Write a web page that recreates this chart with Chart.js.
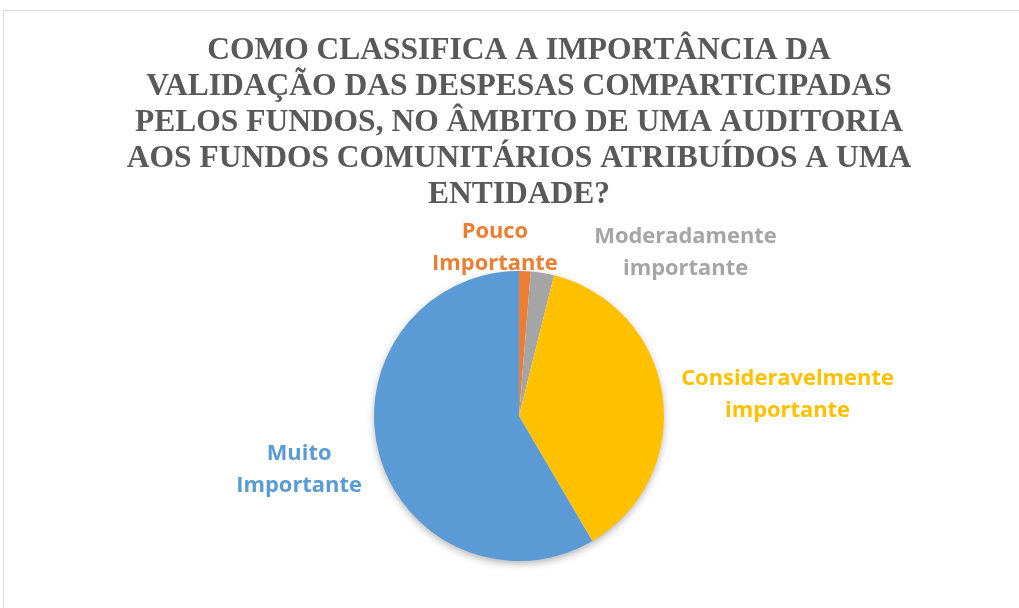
<!DOCTYPE html>
<html>
<head>
<meta charset="utf-8">
<script src="https://cdn.jsdelivr.net/npm/chart.js@4"></script>
<style>
  html, body { margin: 0; padding: 0; background: #fff; overflow: hidden; }
  #wrap { position: relative; width: 1019px; height: 608px; }
</style>
</head>
<body>
<div id="wrap"><canvas id="pieChart" width="1019" height="608"></canvas></div>
<script>
// === dados ===
const categorias = ["Pouco Importante", "Moderadamente importante", "Consideravelmente importante", "Muito Importante"];
const linhasRotulo = [["Pouco", "Importante"], ["Moderadamente", "importante"], ["Consideravelmente", "importante"], ["Muito", "Importante"]];
const respostas = [1, 2, 29, 45];
const titulo = [
    "COMO CLASSIFICA A IMPORTÂNCIA DA",
    "VALIDAÇÃO DAS DESPESAS COMPARTICIPADAS",
    "PELOS FUNDOS, NO ÂMBITO DE UMA AUDITORIA",
    "AOS FUNDOS COMUNITÁRIOS ATRIBUÍDOS A UMA",
    "ENTIDADE?"
];

// paleta Office
const cores = ["#ED7D31", "#A5A5A5", "#FFC000", "#5B9BD5"];

// posição dos rótulos relativa ao ponto médio do arco (estilo)
const posRotulo = [
    { dx: -30, dy: -33 },
    { dx: 143, dy: -30 },
    { dx: 125, dy: -10 },
    { dx: -80, dy: 6 }
];

// moldura cinza do gráfico
const moldura = {
    id: "moldura",
    beforeDraw(chart) {
        const ctx = chart.ctx;
        ctx.save();
        ctx.strokeStyle = "#d9d9d9";
        ctx.lineWidth = 1;
        ctx.strokeRect(3.5, 10.5, 2000, 2000);
        ctx.restore();
    }
};

// sombra por baixo da pizza
const sombra = {
    id: "sombra",
    beforeDatasetsDraw(chart) {
        const arc = chart.getDatasetMeta(0).data[0];
        if (!arc) return;
        const { x, y, outerRadius } = arc.getProps(["x", "y", "outerRadius"], true);
        const ctx = chart.ctx;
        ctx.save();
        ctx.shadowColor = "rgba(0,0,0,0.35)";
        ctx.shadowBlur = 9;
        ctx.shadowOffsetY = 3;
        ctx.fillStyle = "#fff";
        ctx.beginPath();
        ctx.arc(x, y, outerRadius - 1, 0, Math.PI * 2);
        ctx.fill();
        ctx.restore();
    }
};

// rótulos das fatias
const rotulos = {
    id: "rotulos",
    afterDatasetsDraw(chart) {
        const ctx = chart.ctx;
        const meta = chart.getDatasetMeta(0);
        ctx.save();
        // ajusta o tamanho para a largura do rótulo mais longo (~213px)
        ctx.font = "bold 20px 'Open Sans'";
        const w = ctx.measureText("Consideravelmente").width;
        const tam = Math.min(22, 20 * 213 / w);
        ctx.font = "bold " + tam.toFixed(1) + "px 'Open Sans'";
        ctx.textBaseline = "alphabetic";
        ctx.textAlign = "center";
        meta.data.forEach((arc, i) => {
            const { x, y, startAngle, endAngle, outerRadius } =
                arc.getProps(["x", "y", "startAngle", "endAngle", "outerRadius"], true);
            const mid = (startAngle + endAngle) / 2;
            const px = x + Math.cos(mid) * outerRadius + posRotulo[i].dx;
            const py = y + Math.sin(mid) * outerRadius + posRotulo[i].dy;
            ctx.fillStyle = cores[i];
            linhasRotulo[i].forEach((linha, k) => {
                ctx.fillText(linha, px, py + k * 32);
            });
        });
        ctx.restore();
    }
};

new Chart(document.getElementById("pieChart"), {
    type: "pie",
    data: {
        labels: categorias,
        datasets: [{
            data: respostas,
            backgroundColor: cores,
            borderWidth: 0
        }]
    },
    options: {
        responsive: false,
        animation: false,
        layout: { padding: { left: 19, right: 0, top: 0, bottom: 47 } },
        plugins: {
            legend: { display: false },
            tooltip: { enabled: false },
            title: {
                display: true,
                text: titulo,
                color: "#595959",
                font: { family: "'Liberation Serif', 'Times New Roman', serif", size: 31.5, weight: "bold", lineHeight: 1.143 },
                padding: { top: 33, bottom: 58 }
            }
        }
    },
    plugins: [moldura, sombra, rotulos]
});
</script>
</body>
</html>
